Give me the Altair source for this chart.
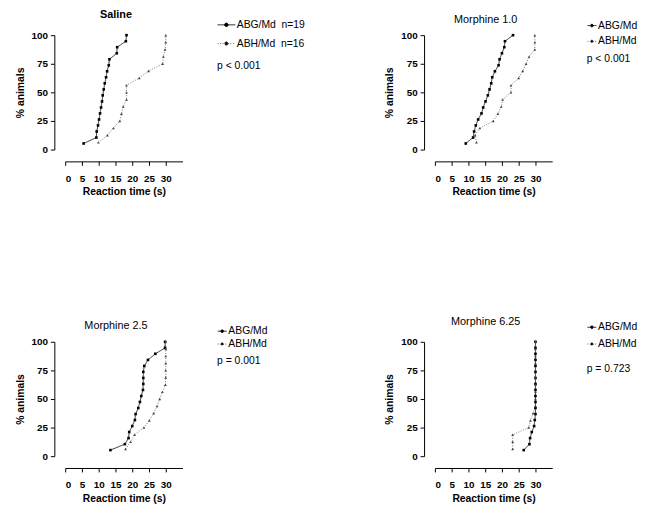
import altair as alt
import pandas as pd

# cumulative % of animals (n=19 for ABG/Md, n=16 for ABH/Md)
PCT_ABG = [5.3, 10.5, 15.8, 21.1, 26.3, 31.6, 36.8, 42.1, 47.4, 52.6,
           57.9, 63.2, 68.4, 73.7, 78.9, 84.2, 89.5, 94.7, 100]
PCT_ABH = [6.25, 12.5, 18.75, 25, 31.25, 37.5, 43.75, 50, 56.25, 62.5,
           68.75, 75, 81.25, 87.5, 93.75, 100]

# reaction times (s)
ABG_SALINE = [5.5, 9.3, 9.4, 9.8, 10.1, 10.4, 10.7, 11.0, 11.2, 11.5,
              11.8, 12.2, 12.5, 13.0, 13.2, 15.4, 15.5, 18.1, 18.3]
ABH_SALINE = [9.9, 12.6, 14.4, 16.3, 16.8, 17.3, 18.3, 18.3, 18.3, 22.1,
              24.9, 29.1, 29.3, 29.8, 30.0, 30.0]
ABG_M10 = [9.2, 11.4, 11.7, 12.2, 12.9, 13.9, 14.4, 15.1, 15.8, 16.3,
           16.8, 17.1, 17.9, 19.0, 19.3, 20.0, 20.7, 20.9, 23.3]
ABH_M10 = [12.4, 12.0, 13.4, 17.4, 18.8, 19.8, 20.2, 22.7, 22.7, 25.0,
           26.2, 27.2, 28.1, 29.8, 29.8, 29.8]
ABG_M25 = [13.5, 17.8, 18.9, 19.1, 20.0, 20.8, 21.0, 21.8, 22.3, 22.7,
           23.2, 23.3, 23.3, 23.3, 23.6, 24.7, 26.9, 29.8, 29.8]
ABH_M25 = [18.0, 19.5, 20.7, 23.5, 25.1, 26.4, 27.4, 28.2, 29.0, 29.9,
           30.0, 30.0, 30.0, 30.0, 30.0, 30.0]
ABG_M625 = [26.5, 28.2, 28.4, 28.9, 29.6, 29.8, 30.0, 30.0, 30.0, 30.0,
            30.0, 30.0, 30.0, 30.0, 30.0, 30.0, 30.0, 30.0, 30.0]
ABH_M625 = [23.2, 23.2, 23.2, 28.0, 28.5, 29.3, 30.0, 30.0, 30.0, 30.0,
            30.0, 30.0, 30.0, 30.0, 30.0, 30.0]

PANEL_TITLES = ["Saline", "Morphine 1.0", "Morphine 2.5", "Morphine 6.25"]
TITLE_WEIGHTS = ["bold", "normal", "normal", "normal"]
P_TEXTS = ["p < 0.001", "p < 0.001", "p = 0.001", "p = 0.723"]
ABG_LABELS = ["ABG/Md\u00a0\u00a0n=19", "ABG/Md", "ABG/Md", "ABG/Md"]
ABH_LABELS = ["ABH/Md\u00a0\u00a0n=16", "ABH/Md", "ABH/Md", "ABH/Md"]
ABG_TIMES = [ABG_SALINE, ABG_M10, ABG_M25, ABG_M625]
ABH_TIMES = [ABH_SALINE, ABH_M10, ABH_M25, ABH_M625]

X_TICKS = [0, 5, 10, 15, 20, 25, 30]
Y_TICKS = [0, 25, 50, 75, 100]

FONT = "Liberation Sans"
SYMBOL_LONG = "M-1,0L1,0M0.2,0A0.2,0.2,0,1,1,-0.2,0A0.2,0.2,0,1,1,0.2,0"
SYMBOL_SHORT = "M-1,0L1,0M0.3,0A0.3,0.3,0,1,1,-0.3,0A0.3,0.3,0,1,1,0.3,0"

# per-panel legend styling
LEG_SYMBOL = [SYMBOL_LONG, SYMBOL_SHORT, SYMBOL_SHORT, SYMBOL_SHORT]
LEG_SIZE = [324, 81, 81, 81]
LEG_Y = [-20, -15, -16, -20]
LEG_ROWPAD = [4, 5, 2, 6]
LEG_TITLEPAD = [12, 7, 7, 15]


def panel(i):
    labels = [ABG_LABELS[i], ABH_LABELS[i]]
    rows = []
    for k, (t, p) in enumerate(zip(ABG_TIMES[i], PCT_ABG)):
        rows.append({"series": labels[0], "time": t, "pct": p, "idx": k})
    for k, (t, p) in enumerate(zip(ABH_TIMES[i], PCT_ABH)):
        rows.append({"series": labels[1], "time": t, "pct": p, "idx": k})
    df = pd.DataFrame(rows)

    x = alt.X("time:Q",
              scale=alt.Scale(domain=[0, 35], nice=False, zero=False),
              axis=alt.Axis(values=X_TICKS, title="Reaction time (s)", offset=12,
                            tickSize=4, labelPadding=8, titlePadding=4))
    y = alt.Y("pct:Q",
              scale=alt.Scale(domain=[0, 100], nice=False),
              axis=alt.Axis(values=Y_TICKS, title="% animals", offset=11,
                            tickSize=4, labelPadding=3, titlePadding=6))
    legend = alt.Legend(orient="none", legendX=154, legendY=LEG_Y[i],
                        title=P_TEXTS[i], titleOrient="bottom",
                        titleFontWeight="normal", titleFontSize=10.5,
                        titleFont=FONT, titlePadding=LEG_TITLEPAD[i],
                        titleColor="#000000",
                        labelFont=FONT, labelFontSize=10.5, labelFontWeight="normal",
                        labelColor="#000000", labelOffset=1,
                        symbolType=LEG_SYMBOL[i], symbolSize=LEG_SIZE[i],
                        symbolStrokeWidth=0.9, symbolFillColor="#000000",
                        rowPadding=LEG_ROWPAD[i])
    color = alt.Color("series:N",
                      scale=alt.Scale(domain=labels, range=["#000000", "#555555"]),
                      legend=legend)
    dash = alt.StrokeDash("series:N",
                          scale=alt.Scale(domain=labels, range=[[1, 0], [1, 1.6]]),
                          legend=legend)

    base = alt.Chart(df).encode(x=x, y=y)
    lines = base.mark_line(strokeWidth=0.8).encode(
        color=color, strokeDash=dash, order=alt.Order("idx:Q"))
    pts_abg = base.mark_point(filled=True, size=7, opacity=1, shape="square",
                              color="#000000").transform_filter(
        alt.datum.series == labels[0])
    pts_abh = base.mark_point(filled=True, size=8, opacity=1, shape="triangle-up",
                              color="#444444").transform_filter(
        alt.datum.series == labels[1])

    return alt.layer(lines, pts_abg, pts_abh).properties(
        width=119, height=116,
        title=alt.TitleParams(PANEL_TITLES[i], fontWeight=TITLE_WEIGHTS[i],
                              fontSize=11, font=FONT, dx=-8, offset=-5,
                              anchor="middle", color="#000000"),
    )


chart = alt.concat(
    panel(0), panel(1), panel(2), panel(3),
    columns=2, spacing={"row": 195, "column": 256}, bounds="flush"
).resolve_scale(
    color="independent", strokeDash="independent"
).properties(padding={"left": 7, "top": -2, "right": 0, "bottom": 0}).configure_view(
    stroke=None
).configure_axis(
    grid=False, domainColor="#000000", tickColor="#000000", labelColor="#000000",
    titleColor="#000000", labelFont=FONT, titleFont=FONT, labelFontSize=10,
    labelFontWeight="bold", titleFontSize=10.5, titleFontWeight="bold",
    domainWidth=1, tickWidth=1
)

chart.save("out.html", embed_options={"renderer": "svg", "actions": False})
